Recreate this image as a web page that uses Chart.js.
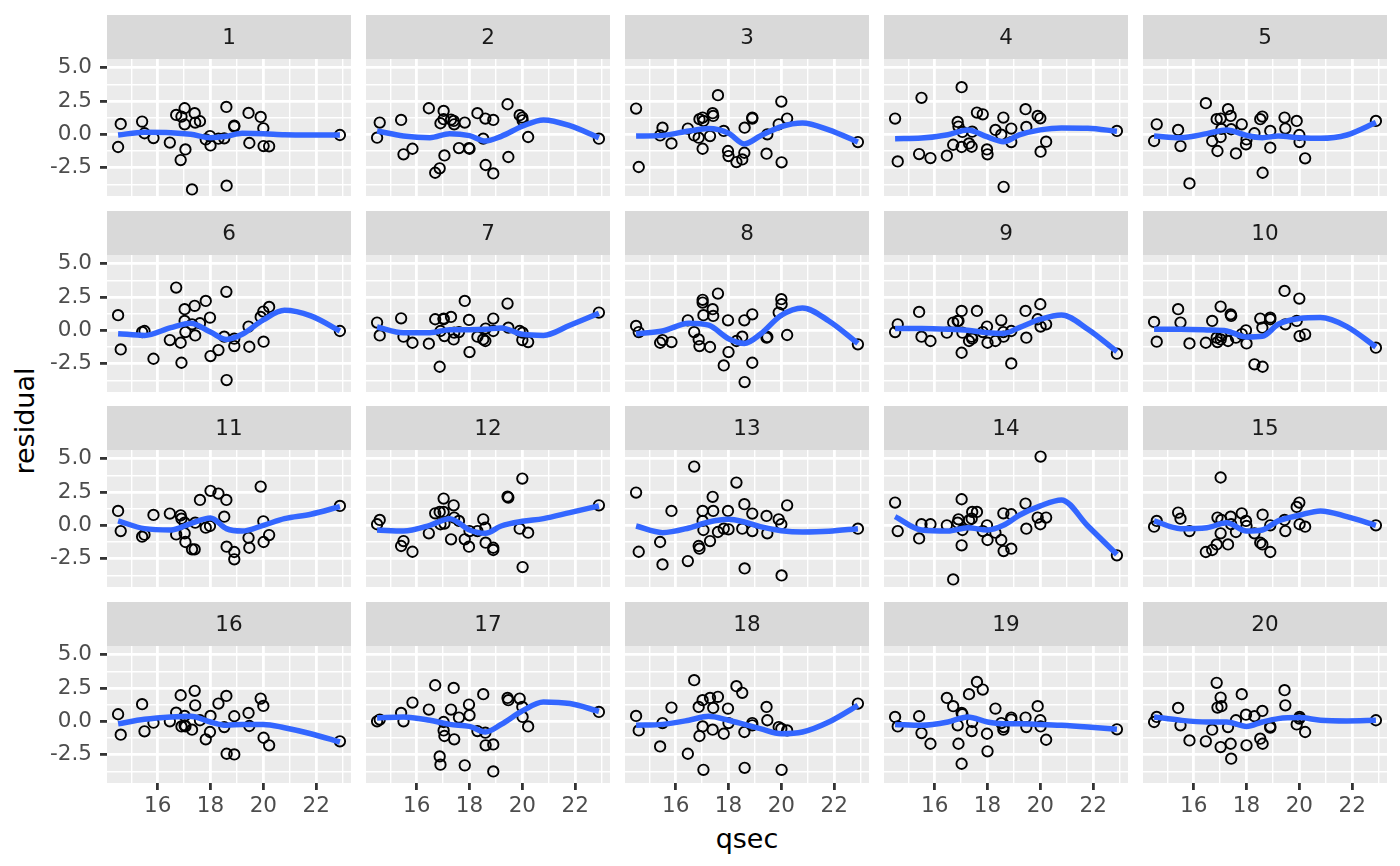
<!DOCTYPE html>
<html>
<head>
<meta charset="utf-8">
<title>residual vs qsec</title>
<script src="https://cdn.jsdelivr.net/npm/chart.js@4.4.1/dist/chart.umd.min.js"></script>
<style>
  body { margin: 0; background: #ffffff; }
  #wrap { position: relative; width: 1400px; height: 866px; overflow: hidden; font-family: "DejaVu Sans", sans-serif; }
  #wrap canvas { position: absolute; }
  .axis-title { position: absolute; font-size: 27px; color: #000000; white-space: nowrap; }
  #ytitle { left: 24px; top: 421px; transform: translate(-50%, -50%) rotate(-90deg); }
  #xtitle { left: 747px; top: 838px; transform: translate(-50%, -50%); }
</style>
</head>
<body>
<div id="wrap">
  <div class="axis-title" id="ytitle">residual</div>
  <div class="axis-title" id="xtitle">qsec</div>
</div>
<script>
// qsec (sorted) - shared x values of every panel
const qsec = [14.50, 14.60, 15.41, 15.50, 15.84, 16.46, 16.70, 16.87, 16.90, 17.02, 17.02, 17.05,
              17.30, 17.40, 17.42, 17.60, 17.82, 17.98, 18.00, 18.30, 18.52, 18.60, 18.61, 18.90,
              18.90, 19.44, 19.47, 19.90, 20.00, 20.01, 20.22, 22.90];

const panelLabels = ['1','2','3','4','5','6','7','8','9','10','11','12','13','14','15','16','17','18','19','20'];

// residuals per panel, same order as qsec
const res01 = [-0.95, 0.78, 0.95, 0.08, -0.28, -0.62, 1.45, -1.93, 1.33, 1.95, 0.75, -1.13, -4.13, 1.58, 0.88, 0.98, -0.38, -0.13, -0.83, -0.33, -0.3, 2.05, -3.85, 0.58, 0.65, 1.6, -0.65, 1.3, 0.45, -0.88, -0.9, -0.05];
const res02 = [-0.25, 0.88, 1.08, -1.5, -1.08, 1.95, -2.88, -2.55, 0.83, 1.75, 1.13, -1.58, 1.1, 1.0, 0.75, -1.03, 0.88, -1.03, -1.08, 1.58, -0.33, 1.18, -2.3, 1.08, -2.93, 2.25, -1.7, 1.43, 1.25, 1.05, -0.2, -0.33];
const res03 = [1.93, -2.45, -0.08, 0.5, -0.68, 0.43, -0.08, -0.25, 1.13, 1.25, -1.08, 1.0, -0.13, 1.58, 1.38, 2.93, 0.25, -1.25, -1.63, -2.08, -1.88, -1.38, 0.5, 1.18, 1.25, -1.45, 0.0, 0.75, 2.45, -2.1, 1.18, -0.58];
const res04 = [1.18, -2.03, -1.48, 2.73, -1.78, -1.6, -0.78, 0.93, 0.58, 3.53, -0.95, 0.18, -0.68, -0.93, 0.2, 1.63, 1.5, -1.13, -1.5, 0.33, -0.03, 1.25, -3.93, 0.43, -0.58, 1.88, 0.55, 1.38, 1.2, -1.3, -0.55, 0.25];
const res05 = [-0.5, 0.75, 0.33, -0.88, -3.68, 2.33, -0.5, 1.13, -1.25, 1.18, -0.2, 0.4, 1.88, 1.38, 0.38, -1.43, 0.75, -0.75, -0.38, 0.08, 1.13, 1.33, -2.88, 0.25, -1.0, 1.25, 0.43, 1.0, -0.05, -0.58, -1.8, 1.0];
const res06 = [1.13, -1.43, -0.13, -0.05, -2.13, -0.73, 3.2, -0.93, -2.43, 1.58, 0.7, -0.13, 0.45, 1.83, -0.38, 0.53, 2.2, 0.95, -1.93, -1.48, -0.48, 2.88, -3.73, -0.63, -1.18, 0.28, -1.23, 1.0, 1.4, -0.85, 1.75, -0.05];
const res07 = [0.58, -0.38, 0.9, -0.48, -0.93, -1.0, 0.83, -2.73, -0.05, 0.83, 0.88, -0.43, 1.0, -0.68, -0.18, -0.13, 2.2, 0.78, -1.63, -0.48, -0.68, -0.8, 0.13, 0.88, -0.05, 2.0, 0.2, -0.05, -0.73, -0.18, -0.88, 1.33];
const res08 = [0.33, -0.13, -0.93, -0.73, -0.88, 0.75, -0.13, -0.68, -1.18, 2.28, 2.08, 1.13, -1.25, 1.58, 1.08, 2.75, -2.63, 0.75, -1.63, -0.8, -0.48, 0.75, -3.88, 1.2, -2.43, -0.55, -0.5, 1.33, 2.33, 1.95, -0.35, -1.05];
const res09 = [-0.13, 0.45, 1.38, -0.48, -0.8, -0.18, 0.58, 0.7, 0.7, 1.45, -1.68, -0.18, -0.8, -0.48, -0.63, 1.45, -0.13, 0.28, -0.93, -0.8, 0.75, -0.13, -0.48, -2.48, -0.05, 1.45, -0.55, 0.83, 1.95, 0.28, 0.45, -1.75];
const res10 = [0.63, -0.85, 1.58, 0.58, -0.98, -0.93, 0.7, -0.55, -0.88, 1.78, -0.68, -0.43, -0.8, 1.2, 1.08, -0.55, -0.28, 0.0, -0.98, -2.55, 0.88, 0.2, -2.73, 0.95, 0.83, 2.95, 0.45, 0.7, 2.38, -0.43, -0.3, -1.3];
const res11 = [1.08, -0.43, -0.85, -0.7, 0.78, 0.88, -0.68, 0.75, 0.5, 0.2, -0.6, -1.25, -1.8, -1.8, 0.2, 1.9, -0.18, -0.05, 2.58, 2.38, 0.65, 1.9, -1.6, -2.0, -2.55, -0.93, -1.68, 2.9, 0.3, -1.25, -0.73, 1.45];
const res12 = [0.08, 0.4, -1.55, -1.18, -1.98, -0.6, 0.9, 1.0, 0.08, 2.0, 1.0, 0.13, -1.05, 1.5, 0.58, 0.33, -1.05, -1.6, -0.43, -0.43, 0.45, -0.18, -1.3, -1.68, -1.85, 2.15, 2.08, -0.25, 3.5, -3.13, -0.55, 1.5];
const res13 = [2.45, -1.98, -1.25, -2.93, 1.08, -2.68, 4.4, -1.55, -1.75, 0.33, 1.08, -0.35, -1.18, 2.13, 1.08, -0.5, -0.25, 1.08, -0.3, 3.2, -0.25, 1.58, -3.23, 0.88, -0.43, 0.7, -0.6, 0.45, 0.08, -3.75, 1.5, -0.25];
const res14 = [1.7, -0.43, -0.98, 0.08, 0.08, 0.0, -4.05, 0.2, 0.45, 1.95, -1.5, -0.35, 0.38, 0.5, 1.0, 1.0, -0.43, 0.0, -1.1, -0.55, -1.1, 0.9, -1.93, 0.83, -1.75, 1.63, -0.25, 0.58, 0.08, 5.15, 0.58, -2.25];
const res15 = [-0.1, 0.33, 0.95, 0.5, -0.43, -2.0, -1.85, -1.43, 0.58, 3.58, -0.6, 0.4, -1.43, 0.65, 0.08, -0.5, 0.9, 0.33, -0.05, -0.6, -1.3, -1.43, 0.8, 0.0, -2.0, 0.4, -0.43, 1.38, 1.7, 0.08, -0.1, 0.0];
const res16 = [0.53, -1.0, 1.28, -0.75, -0.1, 0.0, 0.65, 1.95, -0.38, 0.4, -0.3, -0.38, -0.63, 2.28, 1.2, 0.08, -1.35, -0.8, 0.4, 1.33, -0.43, 1.9, -2.43, 0.38, -2.48, 0.63, -0.35, 1.7, 1.15, -1.23, -1.8, -1.5];
const res17 = [0.0, 0.13, 0.63, 0.0, 1.4, 0.88, 2.7, -2.63, -3.25, -0.05, -0.68, -1.1, 0.88, 2.5, -1.35, 0.28, -3.3, 1.25, 0.45, -0.73, 2.03, -0.85, -1.8, -1.73, -3.75, 1.75, 1.58, 1.7, 1.08, 0.33, -0.38, 0.7];
const res18 = [0.4, -0.68, -1.88, -0.13, 1.03, -2.43, 3.08, 1.08, -1.1, 1.58, -0.38, -3.63, 1.75, -0.63, 1.0, 1.83, -0.93, 0.95, -0.13, 2.63, 2.13, -0.8, -3.48, -0.13, -0.3, 1.08, 0.08, -0.43, -0.55, -3.63, -0.68, 1.33];
const res19 = [0.33, -0.38, 0.38, -0.88, -1.68, 1.75, 1.13, -0.3, -1.68, -3.18, 0.63, 0.53, 2.03, -0.73, -0.05, 2.95, 2.38, -0.93, -2.25, 0.95, -0.13, -0.63, -0.43, 0.28, 0.13, 0.28, -0.43, 1.13, 0.08, -0.38, -1.38, -0.6];
const res20 = [-0.05, 0.33, 1.0, -0.3, -1.43, -1.5, -0.63, 2.88, 1.03, 1.78, -1.93, 1.13, -0.43, -1.68, -2.8, 0.08, 2.03, 0.5, -1.8, 0.38, -1.3, 0.78, -1.68, -0.38, -0.48, 2.33, 1.2, -0.23, 0.2, 0.33, -0.8, 0.08];

// smooth curve read at these qsec positions
const fitX = [14.5, 15.5, 16.5, 17.25, 18.0, 18.6, 19.2, 20.0, 20.8, 21.8, 22.9];
const fit01 = [-0.05, 0.15, 0.12, 0.0, -0.25, -0.15, 0.08, 0.05, -0.03, -0.05, -0.05];
const fit02 = [0.25, -0.12, -0.25, 0.05, -0.1, -0.5, -0.15, 0.6, 1.08, 0.65, -0.25];
const fit03 = [-0.13, -0.08, 0.25, 0.43, 0.08, -0.72, -0.13, 0.58, 0.85, 0.33, -0.58];
const fit04 = [-0.33, -0.28, -0.03, 0.33, -0.2, -0.55, -0.05, 0.33, 0.48, 0.45, 0.23];
const fit05 = [-0.13, -0.25, 0.05, 0.33, -0.08, -0.25, -0.13, -0.25, -0.3, -0.05, 0.88];
const fit06 = [-0.25, -0.38, 0.2, 0.53, -0.13, -0.68, -0.3, 0.78, 1.5, 1.08, -0.05];
const fit07 = [0.25, -0.18, -0.18, 0.05, 0.05, 0.08, 0.18, -0.3, -0.38, 0.38, 1.28];
const fit08 = [-0.25, -0.05, 0.53, 0.38, -0.63, -0.98, -0.3, 1.13, 1.68, 0.7, -0.98];
const fit09 = [0.13, 0.13, 0.08, 0.0, -0.18, -0.23, 0.2, 0.83, 1.15, 0.08, -1.6];
const fit10 = [0.08, 0.08, 0.03, -0.05, -0.5, -0.45, 0.45, 0.88, 0.95, 0.28, -1.25];
const fit11 = [0.33, -0.25, -0.35, 0.13, 0.55, -0.25, -0.43, 0.0, 0.5, 0.83, 1.4];
const fit12 = [-0.35, -0.43, 0.0, 0.5, -0.35, -0.6, -0.05, 0.3, 0.5, 0.95, 1.45];
const fit13 = [-0.05, -0.55, -0.2, 0.25, 0.45, 0.25, -0.1, -0.4, -0.5, -0.45, -0.25];
const fit14 = [0.65, -0.35, -0.43, -0.18, -0.35, 0.0, 0.75, 1.45, 1.9, -0.05, -2.18];
const fit15 = [0.33, -0.25, -0.18, 0.2, -0.43, -0.35, 0.33, 0.75, 1.08, 0.65, 0.0];
const fit16 = [-0.18, 0.15, 0.33, 0.38, -0.05, -0.3, -0.23, -0.23, -0.48, -0.93, -1.55];
const fit17 = [0.25, 0.33, 0.08, -0.23, -0.38, -0.8, -0.23, 0.78, 1.45, 1.33, 0.75];
const fit18 = [-0.3, -0.23, 0.08, 0.38, 0.08, -0.23, -0.55, -0.93, -0.8, -0.05, 1.2];
const fit19 = [-0.23, -0.3, -0.05, 0.33, -0.05, -0.18, -0.18, -0.23, -0.3, -0.43, -0.6];
const fit20 = [0.33, 0.08, -0.05, -0.05, -0.38, -0.05, 0.2, 0.28, 0.08, 0.03, 0.08];

// ticks
const xMajor = [16, 18, 20, 22];
const xMinor = [15, 17, 19, 21, 23];
const yMajor = [-2.5, 0, 2.5, 5];
const yMajorLabels = ['-2.5', '0.0', '2.5', '5.0'];
const yMinor = [-3.75, -1.25, 1.25, 3.75];

const residuals = [res01, res02, res03, res04, res05, res06, res07, res08, res09, res10,
                   res11, res12, res13, res14, res15, res16, res17, res18, res19, res20];
const fits = [fit01, fit02, fit03, fit04, fit05, fit06, fit07, fit08, fit09, fit10,
              fit11, fit12, fit13, fit14, fit15, fit16, fit17, fit18, fit19, fit20];

// layout (pixels)
const X_RANGE = [14.08, 23.32];
const Y_RANGE = [-4.62, 5.64];
const PLOT_LEFT = 107, COL_PITCH = 259, PLOT_W = 244;
const STRIP_TOP = 15, ROW_PITCH = 195.5, STRIP_H = 44, PLOT_H = 137;
const XAXIS_H = 60;
const FONT = '"DejaVu Sans", sans-serif';

Chart.defaults.font.family = FONT;

const isIn = (list, v) => list.some(t => Math.abs(t - v) < 1e-6);

// axes must not push the panel inwards
function noPadding(s) {
    s.paddingTop = 0;
    s.paddingBottom = 0;
    s.paddingLeft = 0;
    s.paddingRight = 0;
}

// grey panel + strip with facet label
const stripPlugin = {
    id: 'strip',
    beforeDraw(chart, args, opts) {
        const { ctx, chartArea: a } = chart;
        ctx.save();
        ctx.fillStyle = '#EBEBEB';
        ctx.fillRect(a.left, a.top, a.right - a.left, a.bottom - a.top);
        ctx.fillStyle = '#D9D9D9';
        ctx.fillRect(a.left, a.top - STRIP_H, a.right - a.left, STRIP_H);
        ctx.fillStyle = '#1A1A1A';
        ctx.font = '21.5px ' + FONT;
        ctx.textAlign = 'center';
        ctx.textBaseline = 'middle';
        ctx.fillText(opts.label, (a.left + a.right) / 2, a.top - STRIP_H / 2 + 1);
        ctx.restore();
    }
};

function makePanel(i) {
    const r = Math.floor(i / 5);
    const c = i % 5;
    const leftCol = c === 0;
    const bottomRow = r === 3;

    const canvas = document.createElement('canvas');
    const w = (leftCol ? PLOT_LEFT : 0) + PLOT_W;
    const h = STRIP_H + PLOT_H + (bottomRow ? XAXIS_H : 0);
    canvas.width = w;
    canvas.height = h;
    canvas.style.width = w + 'px';
    canvas.style.height = h + 'px';
    canvas.style.left = (leftCol ? 0 : PLOT_LEFT + c * COL_PITCH) + 'px';
    canvas.style.top = Math.round(STRIP_TOP + r * ROW_PITCH) + 'px';
    document.getElementById('wrap').appendChild(canvas);

    const points = qsec.map((x, j) => ({ x: x, y: residuals[i][j] }));
    const curve = fitX.map((x, j) => ({ x: x, y: fits[i][j] }));

    new Chart(canvas, {
        type: 'scatter',
        data: {
            datasets: [{
                data: curve,
                showLine: true,
                borderColor: '#3366FF',
                borderWidth: 5.5,
                pointRadius: 0,
                cubicInterpolationMode: 'monotone',
                fill: false,
                order: 0
            }, {
                data: points,
                pointRadius: 5.2,
                pointBorderWidth: 1.9,
                borderColor: '#000000',
                backgroundColor: 'rgba(0,0,0,0)',
                order: 1
            }]
        },
        options: {
            responsive: false,
            animation: false,
            events: [],
            layout: { autoPadding: false, padding: { top: STRIP_H, left: 0, right: 0, bottom: 0 } },
            scales: {
                x: {
                    type: 'linear',
                    min: X_RANGE[0],
                    max: X_RANGE[1],
                    afterBuildTicks: s => {
                        s.ticks = xMinor.concat(xMajor).sort((a, b) => a - b).map(v => ({ value: v }));
                    },
                    afterFit: s => { s.height = bottomRow ? XAXIS_H : 0; noPadding(s); },
                    border: { display: false },
                    grid: {
                        color: '#FFFFFF',
                        lineWidth: ctx => isIn(xMajor, ctx.tick.value) ? 2.8 : 1.4,
                        drawTicks: bottomRow,
                        tickLength: 7,
                        tickWidth: 2.8,
                        tickColor: ctx => isIn(xMajor, ctx.tick.value) ? '#333333' : 'rgba(0,0,0,0)'
                    },
                    ticks: {
                        display: bottomRow,
                        autoSkip: false,
                        maxRotation: 0,
                        padding: 4,
                        color: '#4D4D4D',
                        font: { size: 21.5 },
                        callback: v => isIn(xMajor, v) ? String(v) : ''
                    }
                },
                y: {
                    type: 'linear',
                    min: Y_RANGE[0],
                    max: Y_RANGE[1],
                    afterBuildTicks: s => {
                        s.ticks = yMinor.concat(yMajor).sort((a, b) => a - b).map(v => ({ value: v }));
                    },
                    afterFit: s => { s.width = leftCol ? PLOT_LEFT : 0; noPadding(s); },
                    border: { display: false },
                    grid: {
                        color: '#FFFFFF',
                        lineWidth: ctx => isIn(yMajor, ctx.tick.value) ? 2.8 : 1.4,
                        drawTicks: leftCol,
                        tickLength: 7,
                        tickWidth: 2.8,
                        tickColor: ctx => isIn(yMajor, ctx.tick.value) ? '#333333' : 'rgba(0,0,0,0)'
                    },
                    ticks: {
                        display: leftCol,
                        autoSkip: false,
                        padding: 8,
                        color: '#4D4D4D',
                        font: { size: 21.5 },
                        callback: v => {
                            const k = yMajor.findIndex(t => Math.abs(t - v) < 1e-6);
                            return k >= 0 ? yMajorLabels[k] : '';
                        }
                    }
                }
            },
            plugins: {
                legend: { display: false },
                tooltip: { enabled: false },
                strip: { label: panelLabels[i] }
            }
        },
        plugins: [stripPlugin]
    });
}

for (let i = 0; i < panelLabels.length; i++) {
    makePanel(i);
}
</script>
</body>
</html>
